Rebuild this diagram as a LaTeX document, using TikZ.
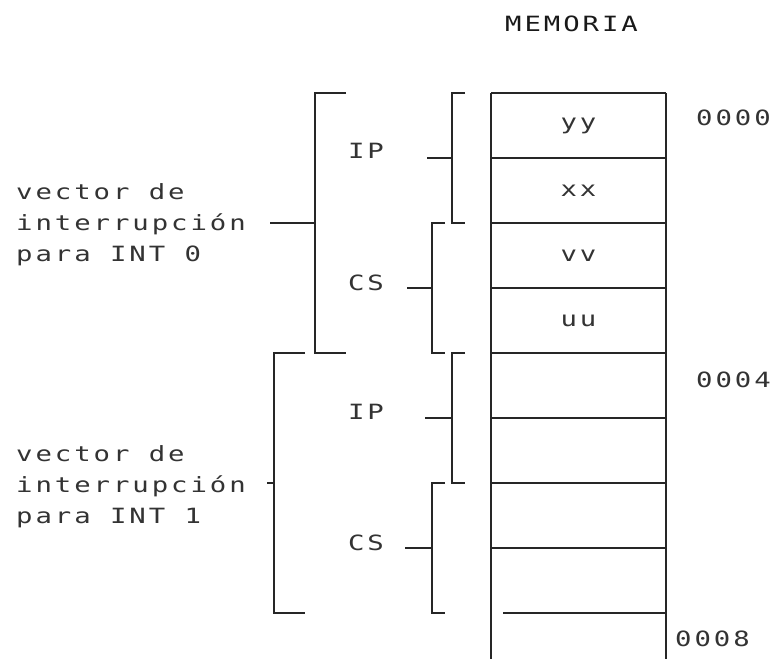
\documentclass[tikz,border=0pt]{standalone}
\usepackage{fontspec}
\usepackage{tikz}
\usetikzlibrary{positioning,calc}
\newfontfamily\dotfont[FakeStretch=1.3,LetterSpace=14]{DejaVu Sans Mono}

\begin{document}
\begin{tikzpicture}[x=1pt,y=1pt,
    txt/.style={font=\dotfont\fontsize{21}{31}\selectfont, text=black!80, inner sep=0pt},
    cell/.style={txt, minimum width=175pt, minimum height=65pt, outer sep=0pt},
    ln/.style={line width=1.2pt, draw=black!85}]
    \useasboundingbox (0,0) rectangle (775,-659);
    \coordinate (bot) at (0,-659);

    % memory cells
    \node[cell] (c1) at (578.5,-125.5) {yy};
    \node[cell, below=0pt of c1] (c2) {xx};
    \node[cell, below=0pt of c2] (c3) {vv};
    \node[cell, below=0pt of c3] (c4) {uu};
    \node[cell, below=0pt of c4] (c5) {};
    \node[cell, below=0pt of c5] (c6) {};
    \node[cell, below=0pt of c6] (c7) {};
    \node[cell, below=0pt of c7] (c8) {};

    \draw[ln] (c1.north west) -- (c1.north east);
    \foreach \c in {c1,c2,c3,c4,c5,c6,c7}
        \draw[ln] (\c.south west) -- (\c.south east);
    \draw[ln] ([xshift=12pt]c8.south west) -- (c8.south east);
    \draw[ln] (c1.north west) -- (c1.north west |- bot);
    \draw[ln] (c1.north east) -- (c1.north east |- bot);

    \node[txt, anchor=south, text=black!90] (mem) at ([xshift=-7pt, yshift=61pt]c1.north) {MEMORIA};
    \node[txt, anchor=west] (a0) at ([xshift=30pt, yshift=-25pt]c1.north east) {0000};
    \node[txt, anchor=west] (a4) at ([xshift=30pt, yshift=-27pt]c5.north east) {0004};
    \node[txt, anchor=west] (a8) at ([xshift=9pt, yshift=-26pt]c8.south east) {0008};

    % small brackets
    \draw[ln] ([xshift=-26pt]c1.north west) -| ([xshift=-39pt]c2.south west) -- ++(13pt,0);
    \draw[ln] ([xshift=-46pt]c3.north west) -| ([xshift=-59pt]c4.south west) -- ++(13pt,0);
    \draw[ln] ([xshift=-26pt]c5.north west) -| ([xshift=-39pt]c6.south west) -- ++(13pt,0);
    \draw[ln] ([xshift=-46pt]c7.north west) -| ([xshift=-59pt]c8.south west) -- ++(13pt,0);

    \coordinate (t1) at ([xshift=-39pt]c1.south west);
    \coordinate (t2) at ([xshift=-59pt]c3.south west);
    \coordinate (t3) at ([xshift=-39pt]c5.south west);
    \coordinate (t4) at ([xshift=-59pt]c7.south west);
    \draw[ln] (t1) -- ++(-25pt,0);
    \draw[ln] (t2) -- ++(-25pt,0);
    \draw[ln] (t3) -- ++(-27pt,0);
    \draw[ln] (t4) -- ++(-27pt,0);

    \node[txt] (ip0) at ([xshift=-125pt, yshift=7pt]c1.south west) {IP};
    \node[txt] (cs0) at ([xshift=-125pt, yshift=5pt]c3.south west) {CS};
    \node[txt] (ip1) at ([xshift=-125pt, yshift=6pt]c5.south west) {IP};
    \node[txt] (cs1) at ([xshift=-125pt, yshift=5pt]c7.south west) {CS};

    % big brackets
    \draw[ln] ([xshift=-145pt]c1.north west) -| ([xshift=-176pt]c4.south west) -- ++(31pt,0);
    \draw[ln] ([xshift=-186pt]c5.north west) -| ([xshift=-217pt]c8.south west) -- ++(31pt,0);

    \coordinate (v0) at ([xshift=-176pt]c2.south west);
    \coordinate (v1) at ([xshift=-217pt]c6.south west);
    \draw[ln] (v0) -- ++(-45pt,0);
    \draw[ln] (v1) -- ++(-7pt,0);

    \node[txt, align=left, anchor=west] (vec0) at ([yshift=-2pt]16,-222.5) {vector de\\interrupción\\para INT 0};
    \node[txt, align=left, anchor=west] (vec1) at ([yshift=-2pt]16,-485) {vector de\\interrupción\\para INT 1};
\end{tikzpicture}
\end{document}
